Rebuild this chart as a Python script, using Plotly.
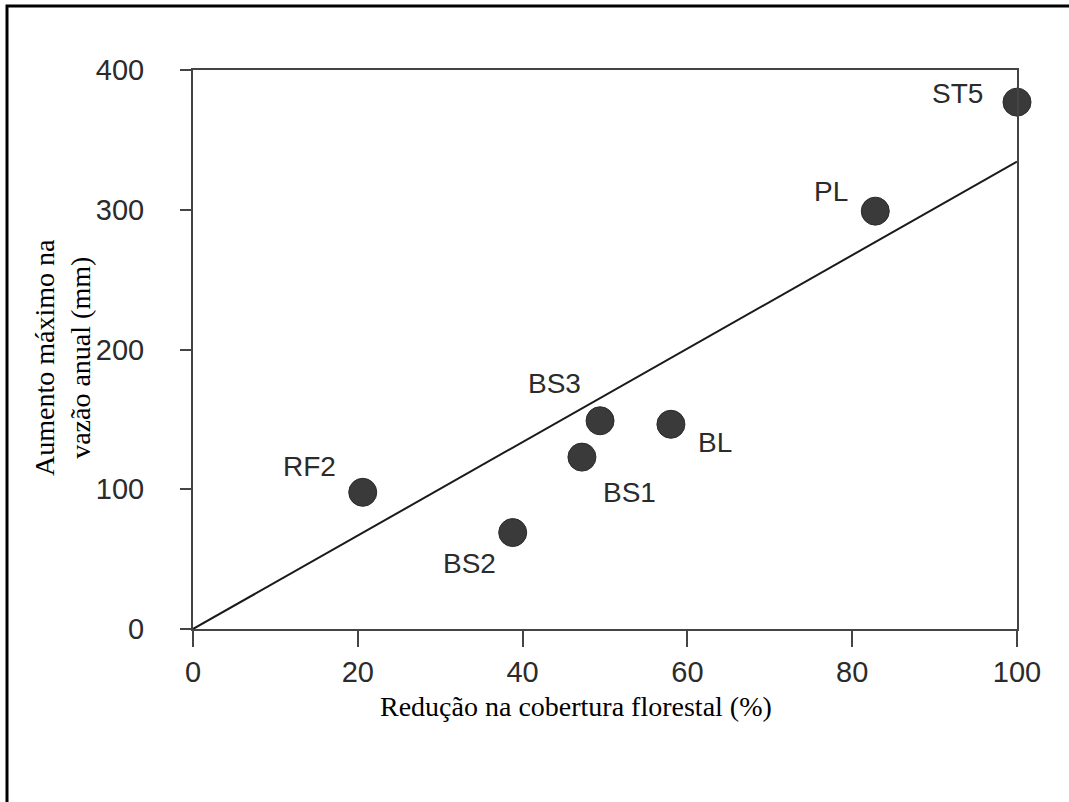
import plotly.graph_objects as go

# Data
sites = ["RF2", "BS2", "BS1", "BS3", "BL", "PL", "ST5"]
reducao = [20.6, 38.8, 47.2, 49.4, 58.0, 82.8, 100.0]
aumento = [97.8, 69.0, 123.0, 149.0, 146.5, 299.0, 377.0]
fit_x = [0, 100]
fit_y = [0, 334.4]
x_ticks = [0, 20, 40, 60, 80, 100]
y_ticks = [0, 100, 200, 300, 400]
x_title = "Redução na cobertura florestal (%)"
y_title = "Aumento máximo na<br>vazão anual (mm)"

# label offsets (pixels) for each site label
label_offsets = {
    "RF2": (-53, 26),
    "BS2": (-43, -31),
    "BS1": (48, -35),
    "BS3": (-46, 37),
    "BL": (44, -18),
    "PL": (-44, 20),
    "ST5": (-60, 9),
}

fig = go.Figure()
fig.add_trace(go.Scatter(
    x=fit_x, y=fit_y, mode="lines",
    line=dict(color="#1a1a1a", width=2), hoverinfo="skip", showlegend=False,
))
fig.add_trace(go.Scatter(
    x=reducao, y=aumento, mode="markers",
    marker=dict(size=28, color="#3a3a3a", line=dict(color="#2a2a2a", width=1)),
    cliponaxis=False, showlegend=False,
))

for s, xv, yv in zip(sites, reducao, aumento):
    dx, dy = label_offsets[s]
    fig.add_annotation(
        x=xv, y=yv, text=s, showarrow=False,
        xanchor="center", yanchor="middle", xshift=dx, yshift=dy,
        font=dict(family="Liberation Sans, Arial, sans-serif", size=28, color="#2b2b2b"),
    )

# axis titles as annotations
fig.add_annotation(
    x=(576 - 193) / 824, y=(629 - 706) / 559, xref="paper", yref="paper",
    text=x_title, showarrow=False, xanchor="center", yanchor="middle",
    font=dict(family="Liberation Serif, Times New Roman, serif", size=28, color="#000"),
)
fig.add_annotation(
    x=(62 - 193) / 824, y=(629 - 358) / 559, xref="paper", yref="paper",
    text=y_title, showarrow=False, xanchor="center", yanchor="middle", textangle=-90,
    font=dict(family="Liberation Serif, Times New Roman, serif", size=28, color="#000"),
)

# outer border (right/bottom edges fall outside the picture)
fig.add_shape(
    type="rect", xref="paper", yref="paper",
    x0=(7 - 193) / 824, x1=(1110 - 193) / 824,
    y0=(629 - 840) / 559, y1=(629 - 6) / 559,
    line=dict(color="#000", width=3), fillcolor="rgba(0,0,0,0)", layer="above",
)

tickfont = dict(family="Liberation Sans, Arial, sans-serif", size=29, color="#2b2b2b")
fig.update_layout(
    width=1069, height=802,
    margin=dict(l=193, r=52, t=70, b=173),
    paper_bgcolor="white", plot_bgcolor="white",
    showlegend=False,
)
fig.update_xaxes(
    range=[0, 100], tickvals=x_ticks, ticktext=[str(v) for v in x_ticks],
    showgrid=False, zeroline=False,
    showline=True, linecolor="#444", linewidth=2, mirror=True,
    ticks="outside", ticklen=16, tickwidth=2, tickcolor="#444",
    tickfont=tickfont, ticklabelstandoff=0,
)
fig.update_yaxes(
    range=[0, 400], tickvals=y_ticks, ticktext=[str(v) for v in y_ticks],
    showgrid=False, zeroline=False,
    showline=True, linecolor="#444", linewidth=2, mirror=True,
    ticks="outside", ticklen=11, tickwidth=2, tickcolor="#444",
    tickfont=tickfont, ticklabelstandoff=30,
)

fig.write_html("out.html")
